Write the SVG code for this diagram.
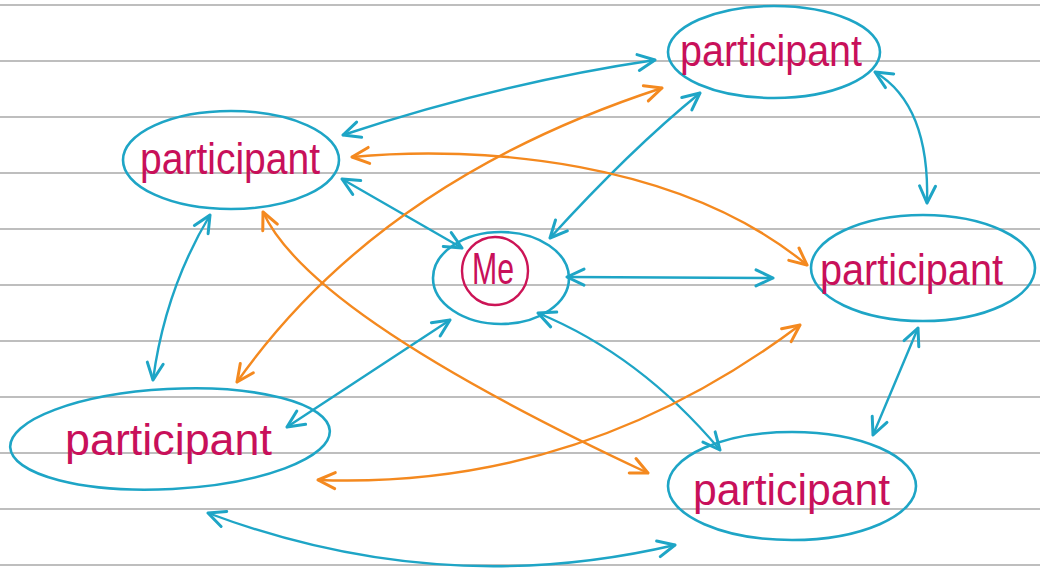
<svg xmlns="http://www.w3.org/2000/svg" width="1040" height="577" viewBox="0 0 1040 577">
  <defs>
    <style>
      .paper { stroke: #a9a9a9; stroke-width: 1.6; }
      .node { fill: none; stroke: #1ea5c6; stroke-width: 2.6; stroke-linecap: round; }
      .me { fill: none; stroke: #cc1456; stroke-width: 2.4; }
      .lbl { font-family: "Liberation Sans", "DejaVu Sans", sans-serif; fill: #c8105a; font-size: 44px; }
      .cy { fill: none; stroke: #1ea5c6; stroke-width: 2.4; stroke-linecap: round; marker-start: url(#ac); marker-end: url(#ac); }
      .or { fill: none; stroke: #f4891f; stroke-width: 2.4; stroke-linecap: round; marker-start: url(#ao); marker-end: url(#ao); }
    </style>
    <marker id="ac" markerUnits="userSpaceOnUse" markerWidth="30" markerHeight="30" refX="0" refY="0" viewBox="-20 -15 30 30" orient="auto-start-reverse">
      <path d="M-17,-8 L0,0 L-17,8" fill="none" stroke="#1ea5c6" stroke-width="3" stroke-linecap="round" stroke-linejoin="round"/>
    </marker>
    <marker id="ao" markerUnits="userSpaceOnUse" markerWidth="30" markerHeight="30" refX="0" refY="0" viewBox="-20 -15 30 30" orient="auto-start-reverse">
      <path d="M-17,-8 L0,0 L-17,8" fill="none" stroke="#f4891f" stroke-width="3" stroke-linecap="round" stroke-linejoin="round"/>
    </marker>
  </defs>
  <rect width="1040" height="577" fill="#ffffff"/>
  <g id="paper">
    <line class="paper" x1="0" y1="5" x2="1040" y2="5"/>
    <line class="paper" x1="0" y1="61" x2="1040" y2="61"/>
    <line class="paper" x1="0" y1="117" x2="1040" y2="117"/>
    <line class="paper" x1="0" y1="173" x2="1040" y2="173"/>
    <line class="paper" x1="0" y1="229" x2="1040" y2="229"/>
    <line class="paper" x1="0" y1="285" x2="1040" y2="285"/>
    <line class="paper" x1="0" y1="341" x2="1040" y2="341"/>
    <line class="paper" x1="0" y1="397" x2="1040" y2="397"/>
    <line class="paper" x1="0" y1="453" x2="1040" y2="453"/>
    <line class="paper" x1="0" y1="509" x2="1040" y2="509"/>
    <line class="paper" x1="0" y1="565" x2="1040" y2="565"/>
  </g>
  <g id="connectors">
    <path class="cy" d="M343,135 Q500,83 655,60"/>
    <path class="cy" d="M700,93 Q630,150 550,238"/>
    <path class="cy" d="M875,72 Q930,105 927,203"/>
    <path class="cy" d="M342,179 L462,248"/>
    <path class="cy" d="M567,277 L773,278"/>
    <path class="cy" d="M210,215 Q165,290 153,380"/>
    <path class="cy" d="M450,320 L287,427"/>
    <path class="cy" d="M538,313 Q640,355 720,450"/>
    <path class="cy" d="M918,328 L873,435"/>
    <path class="cy" d="M208,513 Q440,600 675,545"/>
    <path class="or" d="M352,157 C480,145 680,160 807,265"/>
    <path class="or" d="M237,382 Q380,180 662,88"/>
    <path class="or" d="M263,212 Q310,315 648,473"/>
    <path class="or" d="M318,480 Q580,490 800,325"/>
  </g>
  <g id="node-top-left">
    <ellipse class="node" cx="231" cy="160" rx="108" ry="49"/>
    <text class="lbl" x="140" y="174" textLength="180" lengthAdjust="spacingAndGlyphs">participant</text>
  </g>
  <g id="node-top-right">
    <ellipse class="node" cx="774" cy="52" rx="106" ry="46"/>
    <text class="lbl" x="680" y="66" textLength="182" lengthAdjust="spacingAndGlyphs">participant</text>
  </g>
  <g id="node-right">
    <ellipse class="node" cx="923" cy="268" rx="112" ry="53"/>
    <text class="lbl" x="820" y="285" textLength="183" lengthAdjust="spacingAndGlyphs">participant</text>
  </g>
  <g id="node-bottom-left">
    <ellipse class="node" cx="170" cy="439" rx="160" ry="50" transform="rotate(-3 170 439)"/>
    <text class="lbl" x="65" y="455" textLength="207" lengthAdjust="spacingAndGlyphs">participant</text>
  </g>
  <g id="node-bottom-right">
    <ellipse class="node" cx="792" cy="486" rx="124" ry="54"/>
    <text class="lbl" x="693" y="505" textLength="197" lengthAdjust="spacingAndGlyphs">participant</text>
  </g>
  <g id="node-me">
    <ellipse class="node" cx="501" cy="278" rx="68" ry="46"/>
    <ellipse class="me" cx="495" cy="271" rx="33" ry="34"/>
    <text class="lbl" x="472" y="284" font-size="38" textLength="42" lengthAdjust="spacingAndGlyphs">Me</text>
  </g>
</svg>
